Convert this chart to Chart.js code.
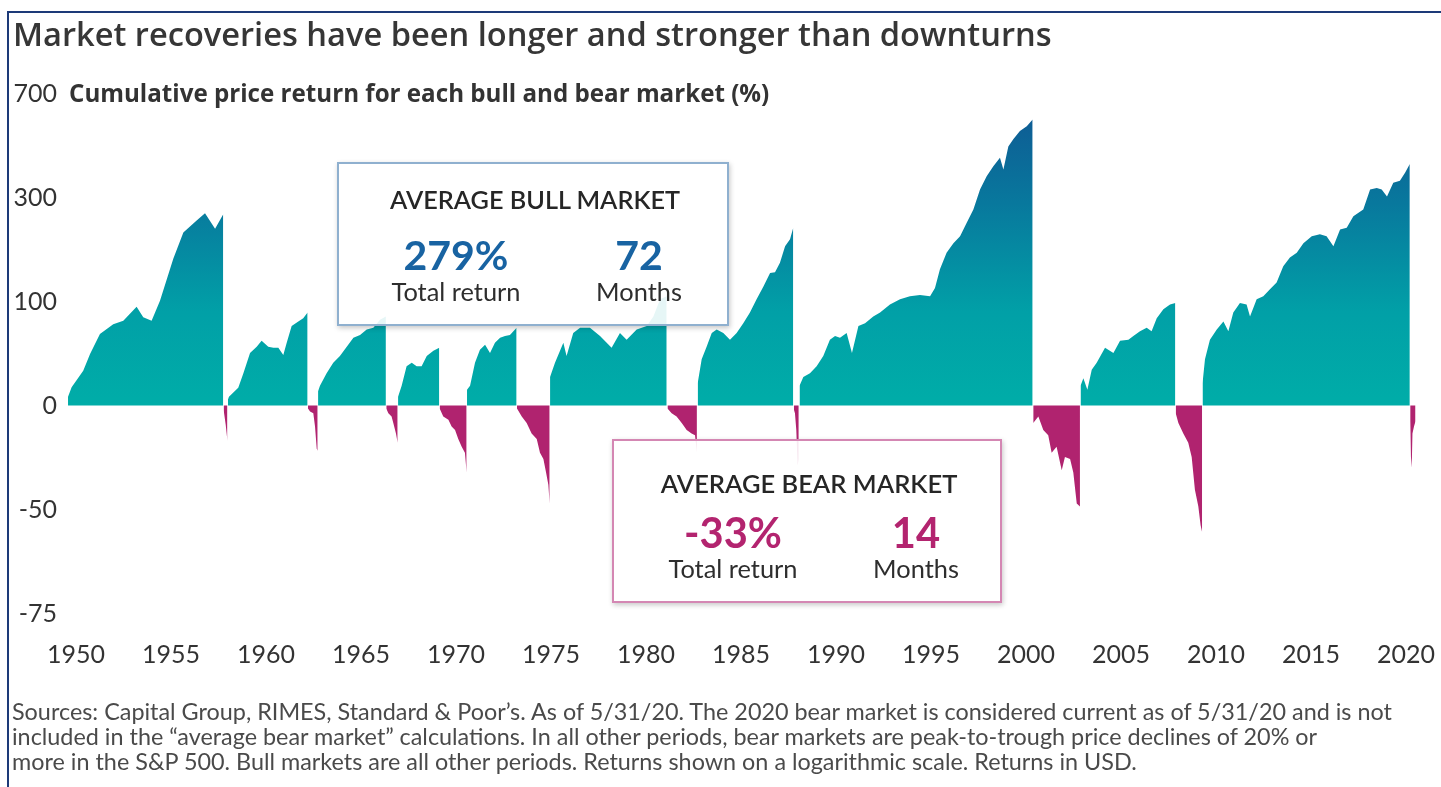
<!DOCTYPE html>
<html>
<head>
<meta charset="utf-8">
<script src="https://cdn.jsdelivr.net/npm/chart.js@4.4.1/dist/chart.umd.min.js"></script>
<style>
  html, body { margin: 0; padding: 0; background: #fff; }
  #wrap { position: relative; width: 1441px; height: 787px; overflow: hidden; background: #fff; }
  #frameL { position: absolute; left: 7px; top: 11px; width: 2px; height: 780px; background: #1d3a78; }
  #frameT { position: absolute; left: 7px; top: 11px; width: 1434px; height: 2px; background: #1d3a78; }
  canvas { position: absolute; left: 0; top: 0; }
  .t { position: absolute; white-space: nowrap; line-height: 1; z-index: 3; }
  #title { left: 13px; top: 34px; transform: translateY(-50%); font-family: 'Open Sans', sans-serif; font-weight: 600; color: #363636; font-size: 31px; }
  #sub { left: 69px; top: 93px; transform: translateY(-50%); font-family: 'Open Sans', sans-serif; font-weight: 700; color: #333; font-size: 21px; }
  .foot { left: 12px; transform: translateY(-50%); font-family: Lato, sans-serif; font-weight: 400; color: #4a4a4a; font-size: 20px; }
  .box { position: absolute; box-sizing: border-box; background: rgba(255,255,255,0.9); z-index: 2; box-shadow: 1px 2px 5px rgba(0,0,0,0.22); }
  #bullBox { left: 337px; top: 162px; width: 392px; height: 164px; border: 2px solid #8fb0cf; }
  #bearBox { left: 612px; top: 439px; width: 390px; height: 164px; border: 2px solid #d487b3; }
  .c { position: absolute; white-space: nowrap; line-height: 1; transform: translate(-50%, -50%); font-family: Lato, sans-serif; }
  .hd { font-weight: 600; color: #262626; font-size: 24px; }
  .num { font-weight: 700; font-size: 40px; }
  .lbl { font-weight: 400; color: #2e2e2e; font-size: 23px; }
  .blue { color: #1863a2; }
  .pink { color: #b3246f; }
</style>
</head>
<body>
<div id="wrap">
  <canvas id="chart" width="1441" height="700"></canvas>
  <div id="frameL"></div>
  <div id="frameT"></div>
  <div id="title" class="t" data-w="1039">Market recoveries have been longer and stronger than downturns</div>
  <div id="sub" class="t" data-w="701">Cumulative price return for each bull and bear market (%)</div>

  <div id="bullBox" class="box">
    <div class="c hd" style="left:196px; top:36px;" data-w="290">AVERAGE BULL MARKET</div>
    <div class="c num blue" style="left:117px; top:91px;" data-w="105">279%</div>
    <div class="c num blue" style="left:300px; top:91px;">72</div>
    <div class="c lbl" style="left:117px; top:128px;" data-w="129">Total return</div>
    <div class="c lbl" style="left:300px; top:128px;">Months</div>
  </div>
  <div id="bearBox" class="box">
    <div class="c hd" style="left:195px; top:43px;" data-w="297">AVERAGE BEAR MARKET</div>
    <div class="c num pink" style="left:119px; top:92px;" data-w="98">-33%</div>
    <div class="c num pink" style="left:302px; top:92px;">14</div>
    <div class="c lbl" style="left:119px; top:128px;" data-w="129">Total return</div>
    <div class="c lbl" style="left:302px; top:128px;">Months</div>
  </div>

  <div id="f1" class="t foot" style="top:712px;" data-w="1381">Sources: Capital Group, RIMES, Standard &amp; Poor’s. As of 5/31/20. The 2020 bear market is considered current as of 5/31/20 and is not</div>
  <div id="f2" class="t foot" style="top:737px;">included in the “average bear market” calculations. In all other periods, bear markets are peak-to-trough price declines of 20% or</div>
  <div id="f3" class="t foot" style="top:762px;">more in the S&amp;P 500. Bull markets are all other periods. Returns shown on a logarithmic scale. Returns in USD.</div>
</div>

<script>
// ---------- DATA: [decimal year, cumulative price return %] ----------
const bull1 = [[1949.58,6],[1949.77,13],[1950.38,26],[1950.74,41],[1951.26,61],[1951.96,72],[1952.49,76],[1953.19,93],[1953.54,80],[1953.98,76],[1954.42,101],[1955.12,166],[1955.65,217],[1956.35,243],[1956.79,260],[1957.32,225],[1957.75,258]];
const bear1 = [[1957.77,-3],[1957.88,-12],[1957.97,-21]];
const bull2 = [[1958.0,4],[1958.05,6],[1958.54,12.5],[1958.81,24],[1959.16,42],[1959.51,48],[1959.77,54],[1960.12,48],[1960.39,47],[1960.65,47],[1960.91,40],[1961.09,52],[1961.35,70],[1961.7,75],[1961.96,79],[1962.19,86]];
const bear2 = [[1962.21,-2],[1962.32,-4],[1962.49,-5],[1962.58,-13],[1962.67,-25],[1962.72,-26]];
const bull3 = [[1962.74,10],[1962.84,14],[1963.19,24],[1963.54,33],[1963.89,39],[1964.25,48],[1964.6,57],[1964.95,60],[1965.3,66],[1965.65,68],[1966.0,77],[1966.31,81]];
const bear3 = [[1966.33,-2],[1966.44,-5],[1966.61,-7],[1966.7,-11],[1966.84,-17],[1966.93,-22]];
const bull4 = [[1966.95,6],[1967.14,14],[1967.4,30],[1967.67,33],[1967.93,30],[1968.19,30],[1968.46,39],[1968.81,44],[1969.12,47]];
const bear4 = [[1969.14,-2],[1969.33,-7],[1969.6,-9],[1969.77,-13],[1969.95,-15],[1970.12,-20],[1970.3,-24],[1970.47,-27],[1970.56,-36]];
const bull5 = [[1970.58,11],[1970.74,14],[1971.0,33],[1971.26,45],[1971.53,50],[1971.79,42],[1972.05,52],[1972.32,57],[1972.58,59],[1972.84,60],[1973.19,68]];
const bear5 = [[1973.21,-2],[1973.46,-7],[1973.72,-11],[1973.98,-17],[1974.25,-20],[1974.42,-27],[1974.6,-30],[1974.74,-36],[1974.86,-41],[1974.93,-48]];
const bull6 = [[1974.95,21],[1975.21,33],[1975.65,52],[1975.82,39],[1976.17,62],[1976.53,68],[1977.05,68],[1977.58,59],[1978.19,47],[1978.63,62],[1978.98,55],[1979.51,66],[1980.04,70],[1980.39,81],[1980.74,103],[1981.09,107]];
const bear6 = [[1981.13,-2],[1981.35,-5],[1981.61,-7],[1981.88,-11],[1982.14,-15],[1982.4,-17],[1982.58,-18],[1982.68,-27]];
const bull7 = [[1982.72,16],[1982.93,36],[1983.19,48],[1983.46,62],[1983.72,66],[1984.07,62],[1984.42,55],[1984.77,62],[1985.12,73],[1985.47,86],[1985.82,103],[1986.18,121],[1986.53,142],[1986.79,143],[1987.05,159],[1987.32,189],[1987.58,203],[1987.75,227]];
const bear7 = [[1987.79,-3],[1987.84,-5],[1987.91,-15],[1987.98,-33],[1988.04,-30]];
const bull8 = [[1988.08,14],[1988.28,21],[1988.63,24],[1988.98,30],[1989.33,39],[1989.68,55],[1989.95,59],[1990.21,57],[1990.56,62],[1990.84,42],[1991.18,70],[1991.53,73],[1991.96,81],[1992.32,86],[1992.84,96],[1993.37,103],[1993.89,107],[1994.42,109],[1994.95,107],[1995.21,119],[1995.47,148],[1995.82,177],[1996.18,195],[1996.53,209],[1996.88,238],[1997.23,269],[1997.58,322],[1997.93,361],[1998.28,393],[1998.63,421],[1998.81,382],[1999.07,462],[1999.33,490],[1999.68,523],[2000.04,543],[2000.35,573]];
const bear8 = [[2000.38,-11],[2000.65,-7],[2000.91,-15],[2001.17,-18],[2001.35,-27],[2001.61,-24],[2001.88,-35],[2002.05,-29],[2002.32,-30],[2002.49,-36],[2002.67,-48],[2002.84,-49]];
const bull9 = [[2002.87,14],[2003.02,20],[2003.23,11],[2003.46,27],[2003.72,33],[2004.16,47],[2004.6,42],[2004.95,54],[2005.39,55],[2005.65,59],[2006.0,64],[2006.35,68],[2006.61,64],[2006.88,79],[2007.23,90],[2007.58,96],[2007.86,98]];
const bear9 = [[2007.88,-5],[2008.02,-11],[2008.28,-17],[2008.54,-22],[2008.72,-29],[2008.89,-43],[2009.07,-49],[2009.19,-55],[2009.27,-57]];
const bull10 = [[2009.29,16],[2009.42,36],[2009.68,55],[2010.04,66],[2010.39,75],[2010.65,64],[2010.91,86],[2011.26,98],[2011.61,96],[2011.79,81],[2012.14,103],[2012.49,107],[2012.84,117],[2013.19,127],[2013.54,153],[2013.89,168],[2014.25,177],[2014.6,195],[2015.04,209],[2015.47,213],[2015.82,209],[2016.18,189],[2016.53,223],[2016.88,227],[2017.23,253],[2017.75,269],[2018.11,322],[2018.46,326],[2018.72,322],[2019.0,303],[2019.33,341],[2019.68,347],[2019.95,372],[2020.2,400]];
const bear10 = [[2020.22,-10],[2020.26,-29],[2020.3,-34],[2020.34,-17],[2020.42,-13],[2020.5,-10]];

const bullMarkets = [bull1, bull2, bull3, bull4, bull5, bull6, bull7, bull8, bull9, bull10];
const bearMarkets = [bear1, bear2, bear3, bear4, bear5, bear6, bear7, bear8, bear9, bear10];

const xTickYears = [1950, 1955, 1960, 1965, 1970, 1975, 1980, 1985, 1990, 1995, 2000, 2005, 2010, 2015, 2020];
const yTickReturns = [-75, -50, 0, 100, 300, 700];

// ---------- CHART ----------
const toGrowth = pct => 1 + pct / 100;
const toPoints = arr => arr.map(([yr, pct]) => ({ x: yr, y: toGrowth(pct) }));

let grad = null, gradKey = '';
function bullFill(ctx) {
  const ch = ctx.chart;
  if (!ch.chartArea || !ch.scales.y) return '#00aca8';
  const ys = ch.scales.y;
  const y0 = ys.getPixelForValue(1), y1 = ys.getPixelForValue(8);
  const key = y0 + '_' + y1;
  if (key !== gradKey) {
    grad = ch.ctx.createLinearGradient(0, y0, 0, y1);
    grad.addColorStop(0, '#00ada8');
    grad.addColorStop(0.3, '#01a0a7');
    grad.addColorStop(0.65, '#08789d');
    grad.addColorStop(1, '#105592');
    gradKey = key;
  }
  return grad;
}

const datasets = [];
bullMarkets.forEach((m, i) => datasets.push({
  label: 'Bull ' + (i + 1), data: toPoints(m),
  fill: { value: 1 }, backgroundColor: bullFill, borderWidth: 0,
  pointRadius: 0, pointHoverRadius: 0, tension: 0
}));
bearMarkets.forEach((m, i) => datasets.push({
  label: 'Bear ' + (i + 1), data: toPoints(m),
  fill: { value: 1 }, backgroundColor: '#b0236f', borderWidth: 0,
  pointRadius: 0, pointHoverRadius: 0, tension: 0
}));

const tickFont = { family: 'Lato', size: 25, weight: '400' };

new Chart(document.getElementById('chart'), {
  type: 'line',
  data: { datasets },
  options: {
    responsive: false,
    animation: false,
    events: [],
    layout: { padding: { top: 93.5, right: 22, left: 0, bottom: 0 } },
    plugins: { legend: { display: false }, tooltip: { enabled: false } },
    scales: {
      x: {
        type: 'linear', min: 1949.316, max: 2020.684,
        grid: { display: false, drawTicks: false }, border: { display: false },
        afterBuildTicks: s => { s.ticks = xTickYears.map(v => ({ value: v })); },
        afterFit: s => { s.height = 86.5; s.paddingLeft = 0; s.paddingRight = 0; },
        ticks: { padding: 26, color: '#333', font: tickFont, maxRotation: 0, autoSkip: false,
                 callback: v => String(v) }
      },
      y: {
        type: 'logarithmic', min: toGrowth(-75), max: toGrowth(700),
        grid: { display: false, drawTicks: false }, border: { display: false },
        afterBuildTicks: s => { s.ticks = yTickReturns.map(r => ({ value: toGrowth(r) })); },
        afterFit: s => { s.width = 63; s.paddingTop = 0; s.paddingBottom = 0; },
        ticks: { padding: 6, color: '#333', font: tickFont, autoSkip: false,
                 callback: v => String(Math.round((v - 1) * 100)) }
      }
    }
  }
});

// ---------- fit text widths ----------
function fit(el, w) {
  const cur = parseFloat(getComputedStyle(el).fontSize);
  const r = el.getBoundingClientRect().width;
  if (r > 0) el.style.fontSize = (cur * w / r) + 'px';
}
document.querySelectorAll('[data-w]').forEach(el => fit(el, parseFloat(el.dataset.w)));
const fsz = getComputedStyle(document.getElementById('f1')).fontSize;
document.getElementById('f2').style.fontSize = fsz;
document.getElementById('f3').style.fontSize = fsz;
document.querySelectorAll('.box').forEach(b => {
  const nums = b.querySelectorAll('.num'); nums[1].style.fontSize = getComputedStyle(nums[0]).fontSize;
  const lbls = b.querySelectorAll('.lbl'); lbls[1].style.fontSize = getComputedStyle(lbls[0]).fontSize;
});
</script>
</body>
</html>
